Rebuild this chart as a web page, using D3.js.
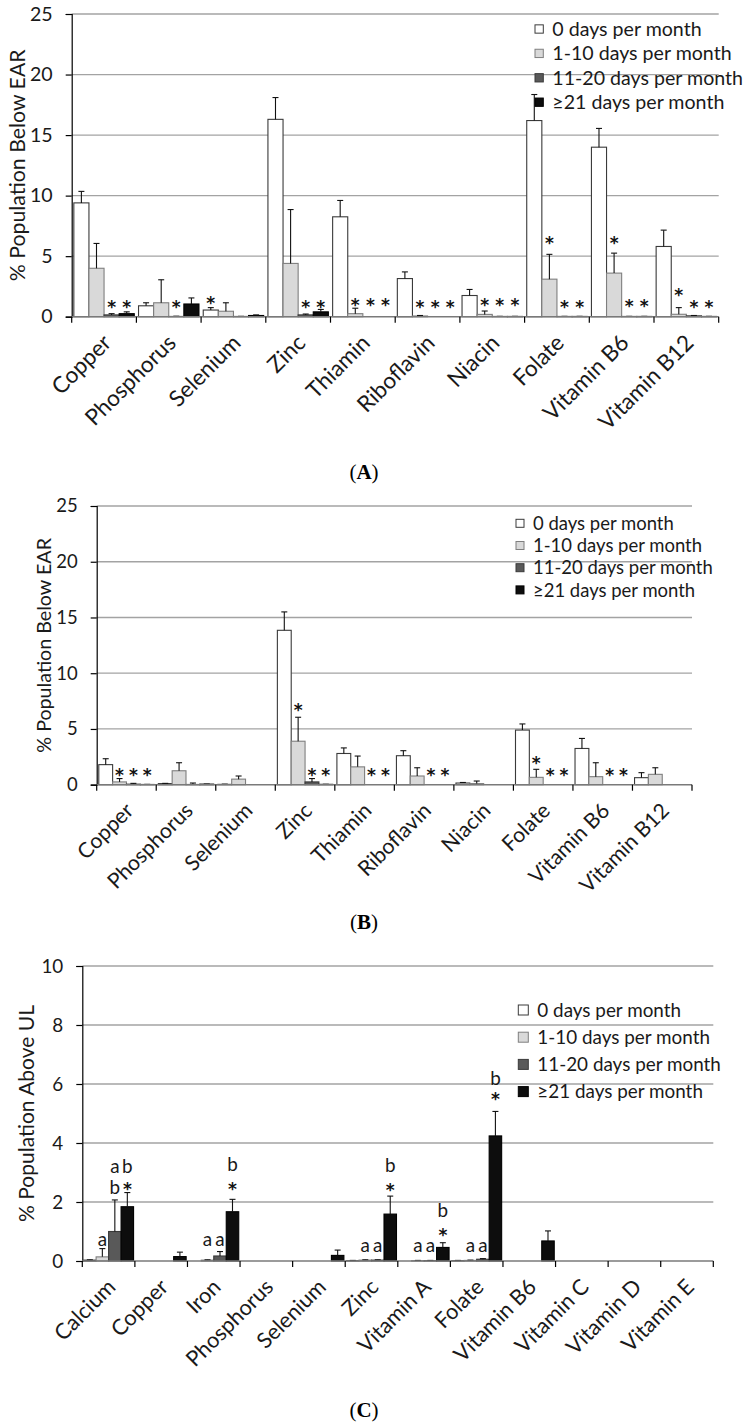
<!DOCTYPE html>
<html>
<head>
<meta charset="utf-8">
<script src="https://cdn.jsdelivr.net/npm/d3@7/dist/d3.min.js"></script>
<style>
body { margin: 0; background: #fff; }
</style>
</head>
<body>
<div id="container"></div>
<script>
// ---- data ----
const seriesNames = ["0 days per month", "1-10 days per month", "11-20 days per month", "\u226521 days per month"];

const nutrientsEAR = ["Copper", "Phosphorus", "Selenium", "Zinc", "Thiamin", "Riboflavin", "Niacin", "Folate", "Vitamin B6", "Vitamin B12"];
const nutrientsUL = ["Calcium", "Copper", "Iron", "Phosphorus", "Selenium", "Zinc", "Vitamin A", "Folate", "Vitamin B6", "Vitamin C", "Vitamin D", "Vitamin E"];

// (A) % below EAR: mean and top of error bar, one array per frequency group
const earA_0 = [9.4, 0.9, 0.55, 16.3, 8.25, 3.15, 1.75, 16.2, 14.0, 5.8];
const earA_0err = [10.35, 1.15, 0.75, 18.1, 9.6, 3.7, 2.25, 18.35, 15.55, 7.15];
const earA_1 = [4.0, 1.15, 0.45, 4.4, 0.25, 0.06, 0.19, 3.1, 3.6, 0.2];
const earA_1err = [6.05, 3.05, 1.15, 8.85, 0.7, 0.1, 0.47, 5.15, 5.25, 0.75];
const earA_2 = [0.15, 0.02, 0.02, 0.15, 0, 0, 0.02, 0.02, 0.02, 0.07];
const earA_2err = [0.25, 0.04, 0.03, 0.22, 0, 0, 0.03, 0.03, 0.03, 0.1];
const earA_3 = [0.25, 1.05, 0.1, 0.4, 0, 0, 0.02, 0.02, 0.02, 0.02];
const earA_3err = [0.4, 1.55, 0.15, 0.6, 0, 0, 0.03, 0.03, 0.03, 0.03];
// [nutrient, group, height of star in % units]
const starsA = [
    ["Copper", 2, 1.05], ["Copper", 3, 1.05], ["Phosphorus", 2, 1.05], ["Selenium", 0, 1.38],
    ["Zinc", 2, 1.05], ["Zinc", 3, 1.05], ["Thiamin", 1, 1.2], ["Thiamin", 2, 1.2], ["Thiamin", 3, 1.2],
    ["Riboflavin", 1, 1.05], ["Riboflavin", 2, 1.05], ["Riboflavin", 3, 1.05],
    ["Niacin", 1, 1.2], ["Niacin", 2, 1.2], ["Niacin", 3, 1.2],
    ["Folate", 1, 6.3], ["Folate", 2, 1.05], ["Folate", 3, 1.05],
    ["Vitamin B6", 1, 6.3], ["Vitamin B6", 2, 1.1], ["Vitamin B6", 3, 1.1],
    ["Vitamin B12", 1, 2.0], ["Vitamin B12", 2, 1.0], ["Vitamin B12", 3, 1.0]];

// (B) % below EAR
const earB_0 = [1.8, 0.1, 0.03, 13.85, 2.8, 2.6, 0.15, 4.9, 3.25, 0.63];
const earB_0err = [2.33, 0.12, 0.05, 15.5, 3.3, 3.05, 0.2, 5.45, 4.15, 1.08];
const earB_1 = [0.25, 1.25, 0.5, 3.9, 1.6, 0.78, 0.1, 0.66, 0.72, 0.93];
const earB_1err = [0.55, 1.97, 0.78, 6.05, 2.57, 1.52, 0.33, 1.38, 1.97, 1.52];
const earB_2 = [0.05, 0.02, 0, 0.25, 0, 0, 0, 0, 0, 0];
const earB_2err = [0.12, 0.15, 0, 0.55, 0, 0, 0, 0, 0, 0];
const earB_3 = [0.02, 0.05, 0, 0.03, 0, 0, 0, 0, 0, 0];
const earB_3err = [0.03, 0.06, 0, 0.04, 0, 0, 0, 0, 0, 0];
const starsB = [
    ["Copper", 1, 1.1], ["Copper", 2, 1.1], ["Copper", 3, 1.1],
    ["Zinc", 1, 7.0], ["Zinc", 2, 1.1], ["Zinc", 3, 1.1],
    ["Thiamin", 2, 1.1], ["Thiamin", 3, 1.1], ["Riboflavin", 2, 1.1], ["Riboflavin", 3, 1.1],
    ["Folate", 1, 2.2], ["Folate", 2, 1.1], ["Folate", 3, 1.1],
    ["Vitamin B6", 2, 1.15], ["Vitamin B6", 3, 1.15]];

// (C) % above UL
const ulC_0 = [0.03, 0, 0, 0, 0, 0.01, 0, 0.01, 0, 0, 0, 0];
const ulC_0err = [0.04, 0, 0, 0, 0, 0.02, 0, 0.02, 0, 0, 0, 0];
const ulC_1 = [0.14, 0, 0.03, 0, 0, 0.03, 0.01, 0.02, 0, 0, 0, 0];
const ulC_1err = [0.42, 0, 0.04, 0, 0, 0.04, 0.02, 0.03, 0, 0, 0, 0];
const ulC_2 = [1.0, 0, 0.17, 0, 0, 0.03, 0.01, 0.06, 0, 0, 0, 0];
const ulC_2err = [2.07, 0, 0.32, 0, 0, 0.04, 0.02, 0.08, 0, 0, 0, 0];
const ulC_3 = [1.84, 0.15, 1.67, 0, 0.19, 1.59, 0.46, 4.24, 0.68, 0, 0, 0];
const ulC_3err = [2.32, 0.3, 2.09, 0, 0.37, 2.2, 0.62, 5.07, 1.02, 0, 0, 0];
const starsC = [["Calcium", 3, 2.54], ["Iron", 3, 2.54], ["Zinc", 3, 2.52], ["Vitamin A", 3, 0.99], ["Folate", 3, 5.6]];
// [nutrient, group, letter, height]
const lettersC = [
    ["Calcium", 1, "a", 0.71], ["Calcium", 2, "b", 2.47], ["Calcium", 2, "a", 3.19], ["Calcium", 3, "b", 3.19],
    ["Iron", 1, "a", 0.71], ["Iron", 2, "a", 0.71], ["Iron", 3, "b", 3.25],
    ["Zinc", 1, "a", 0.48], ["Zinc", 2, "a", 0.48], ["Zinc", 3, "b", 3.2],
    ["Vitamin A", 1, "a", 0.48], ["Vitamin A", 2, "a", 0.48], ["Vitamin A", 3, "b", 1.7],
    ["Folate", 1, "a", 0.48], ["Folate", 2, "a", 0.48], ["Folate", 3, "b", 6.15]];

// ---- style ----
const width = 748;
const height = 1426;
const fontFamily = "Lato, 'Open Sans', sans-serif";
const starFont = "'DejaVu Sans', sans-serif";
const captionFont = "'Liberation Serif', 'DejaVu Serif', serif";
const textColor = "#1a1a1a";
const gridColor = "#a3a3a3";
const barFill = ["#ffffff", "#d9d9d9", "#595959", "#0d0d0d"];
const barStroke = ["#3a3a3a", "#7f7f7f", "#3a3a3a", "#000000"];
const labelScale = 1.15; // category labels are set larger than the legend

const panels = [
    {caption: "A", cats: nutrientsEAR, title: "% Population Below EAR",
     values: [earA_0, earA_1, earA_2, earA_3], errs: [earA_0err, earA_1err, earA_2err, earA_3err],
     stars: starsA, letters: [],
     left: 71.7, right: 718.7, top: 14, bottom: 316.7, yMax: 25, yStep: 5, fill: 0.934,
     size: 21, titleSize: 22.8, titleX: 18, legendX: 535, legendY: 29, legendDy: 24.4, square: 8.3, captionY: 479},
    {caption: "B", cats: nutrientsEAR, title: "% Population Below EAR",
     values: [earB_0, earB_1, earB_2, earB_3], errs: [earB_0err, earB_1err, earB_2err, earB_3err],
     stars: starsB, letters: [],
     left: 96.7, right: 692, top: 506, bottom: 784.7, yMax: 25, yStep: 5, fill: 0.93,
     size: 19.8, titleSize: 21.1, titleX: 44, legendX: 516, legendY: 523.3, legendDy: 22.2, square: 8, captionY: 929},
    {caption: "C", cats: nutrientsUL, title: "% Population Above UL",
     values: [ulC_0, ulC_1, ulC_2, ulC_3], errs: [ulC_0err, ulC_1err, ulC_2err, ulC_3err],
     stars: starsC, letters: lettersC,
     left: 82.3, right: 713.3, top: 966, bottom: 1261, yMax: 10, yStep: 2, fill: 0.95,
     size: 20.2, titleSize: 22.5, titleX: 27, legendX: 518.3, legendY: 1010, legendDy: 27.2, square: 10, captionY: 1417}
];

const svg = d3.select("#container").append("svg")
    .attr("width", width)
    .attr("height", height)
    .attr("viewBox", [0, 0, width, height]);

svg.append("rect").attr("width", width).attr("height", height).attr("fill", "#fff");

// sizes above are read as Calibri px; rescale to the installed font by matching text width
const probe = svg.append("text").attr("font-family", fontFamily).attr("font-size", 100).text("0 days per month");
const fontScale = 711.6 / probe.node().getComputedTextLength();
probe.remove();
const fs = s => s * fontScale;

function drawPanel(p) {
    const g = svg.append("g");
    const x = d3.scaleBand().domain(p.cats).range([p.left, p.right]);
    const po = 2 * (1 / p.fill - 1);
    const xs = d3.scaleBand().domain(d3.range(4)).range([0, x.bandwidth()]).paddingOuter(po).paddingInner(0);
    const y = d3.scaleLinear().domain([0, p.yMax]).range([p.bottom, p.top]);
    const ticks = d3.range(0, p.yMax + 0.001, p.yStep);

    // gridlines
    g.append("g").selectAll("line")
        .data(ticks.filter(t => t > 0))
        .join("line")
        .attr("x1", p.left).attr("x2", p.right)
        .attr("y1", d => y(d)).attr("y2", d => y(d))
        .attr("stroke", gridColor).attr("stroke-width", 1.3);

    // y axis
    const yAxis = g.append("g")
        .attr("transform", `translate(${p.left},0)`)
        .call(d3.axisLeft(y).tickValues(ticks).tickSize(6).tickPadding(13).tickFormat(d3.format("d")));
    yAxis.select(".domain").attr("stroke", "#000").attr("stroke-width", 1.2);
    yAxis.selectAll(".tick line").attr("stroke", "#000").attr("stroke-width", 1.2);
    yAxis.selectAll(".tick text")
        .attr("font-family", fontFamily).attr("font-size", fs(p.size)).attr("fill", textColor);

    // bars
    const cells = [];
    p.values.forEach((vals, s) => vals.forEach((v, i) => {
        cells.push({cat: p.cats[i], s: s, v: v, e: p.errs[s][i]});
    }));
    const shown = cells.filter(d => d.v > 0);
    g.append("g").selectAll("rect")
        .data(shown)
        .join("rect")
        .attr("x", d => x(d.cat) + xs(d.s))
        .attr("y", d => y(d.v))
        .attr("width", xs.bandwidth())
        .attr("height", d => y(0) - y(d.v))
        .attr("fill", d => barFill[d.s])
        .attr("stroke", d => barStroke[d.s])
        .attr("stroke-width", 1.1);

    // error bars (upper only)
    const errs = shown.filter(d => d.e > d.v);
    const cx = d => x(d.cat) + xs(d.s) + xs.bandwidth() / 2;
    const eg = g.append("g").attr("stroke", "#111").attr("stroke-width", 1.1);
    eg.selectAll("line.stem").data(errs).join("line").attr("class", "stem")
        .attr("x1", cx).attr("x2", cx)
        .attr("y1", d => y(d.v)).attr("y2", d => y(d.e));
    eg.selectAll("line.cap").data(errs).join("line").attr("class", "cap")
        .attr("x1", d => cx(d) - 3).attr("x2", d => cx(d) + 3)
        .attr("y1", d => y(d.e)).attr("y2", d => y(d.e));

    // x axis with ticks at category boundaries
    const bounds = p.cats.map(c => x(c)).concat([p.right]);
    g.append("line")
        .attr("x1", p.left).attr("x2", p.right)
        .attr("y1", y(0)).attr("y2", y(0))
        .attr("stroke", "#7a7a7a").attr("stroke-width", 1.6);
    g.append("g").selectAll("line")
        .data(bounds)
        .join("line")
        .attr("x1", d => d).attr("x2", d => d)
        .attr("y1", y(0)).attr("y2", y(0) + 6)
        .attr("stroke", "#000").attr("stroke-width", 1.2);

    g.append("g").selectAll("text")
        .data(p.cats)
        .join("text")
        .attr("transform", d => `translate(${x(d) + x.bandwidth() / 2 + 3},${y(0) + 22}) rotate(-45)`)
        .attr("text-anchor", "end")
        .attr("dy", "0.35em")
        .attr("font-family", fontFamily)
        .attr("font-size", fs(p.size * labelScale))
        .attr("fill", textColor)
        .text(d => d);

    // y title
    g.append("text")
        .attr("transform", `translate(${p.titleX},${(p.top + p.bottom) / 2}) rotate(-90)`)
        .attr("text-anchor", "middle")
        .attr("dy", "0.35em")
        .attr("font-family", fontFamily)
        .attr("font-size", fs(p.titleSize))
        .attr("fill", textColor)
        .text(p.title);

    // significance stars and letters
    g.append("g").selectAll("text")
        .data(p.stars)
        .join("text")
        .attr("x", d => x(d[0]) + xs(d[1]) + xs.bandwidth() / 2)
        .attr("y", d => y(d[2]))
        .attr("dy", "0.52em")
        .attr("text-anchor", "middle")
        .attr("font-family", starFont)
        .attr("font-weight", "bold")
        .attr("font-size", 17)
        .attr("fill", "#111")
        .text("*");
    g.append("g").selectAll("text")
        .data(p.letters)
        .join("text")
        .attr("x", d => x(d[0]) + xs(d[1]) + xs.bandwidth() / 2)
        .attr("y", d => y(d[3]))
        .attr("dy", "0.3em")
        .attr("text-anchor", "middle")
        .attr("font-family", fontFamily)
        .attr("font-size", fs(p.size))
        .attr("fill", textColor)
        .text(d => d[2]);

    // legend
    const lg = g.append("g").selectAll("g")
        .data(seriesNames)
        .join("g")
        .attr("transform", (d, i) => `translate(${p.legendX},${p.legendY + i * p.legendDy})`);
    lg.append("rect")
        .attr("x", 0).attr("y", -p.square / 2)
        .attr("width", p.square).attr("height", p.square)
        .attr("fill", (d, i) => barFill[i])
        .attr("stroke", (d, i) => barStroke[i])
        .attr("stroke-width", 1);
    lg.append("text")
        .attr("x", p.square + 9)
        .attr("dy", "0.36em")
        .attr("font-family", fontFamily)
        .attr("font-size", fs(p.size))
        .attr("fill", textColor)
        .text(d => d);

    // caption
    const cap = svg.append("text")
        .attr("x", 364).attr("y", p.captionY)
        .attr("text-anchor", "middle")
        .attr("font-family", captionFont)
        .attr("font-size", 21)
        .attr("fill", "#000");
    cap.append("tspan").text("(");
    cap.append("tspan").attr("font-weight", "bold").text(p.caption);
    cap.append("tspan").text(")");
}

panels.forEach(drawPanel);
</script>
</body>
</html>
